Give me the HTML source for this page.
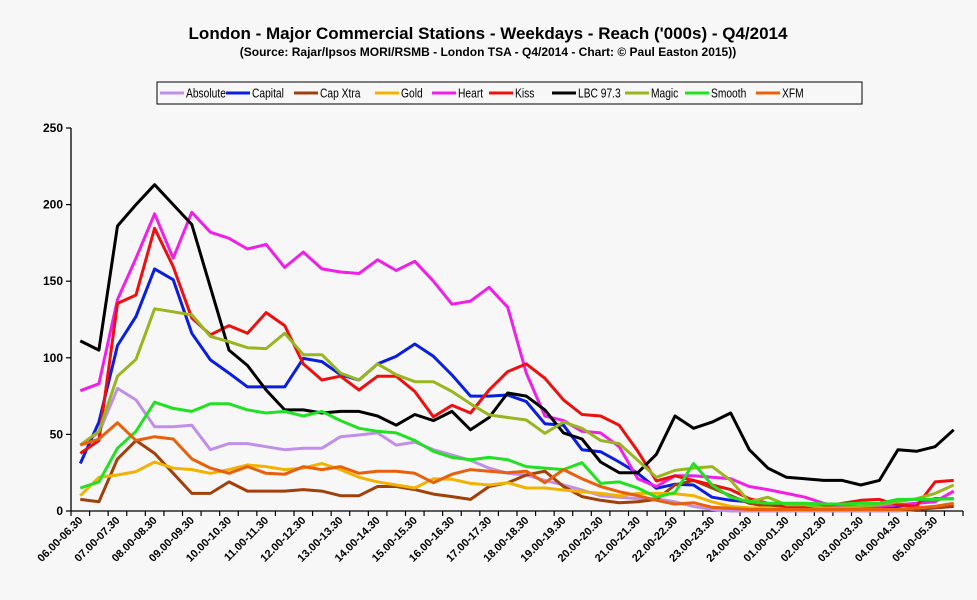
<!DOCTYPE html>
<html><head><meta charset="utf-8"><style>
body{margin:0;background:#f7f7f7;}
svg{display:block;font-family:"Liberation Sans",Arial,sans-serif;}
</style></head><body>
<svg id="chart" width="977" height="600">
<rect x="0" y="0" width="977" height="600" fill="#f7f7f7"/>
<text x="488" y="39" text-anchor="middle" font-size="17" font-weight="bold">London - Major Commercial Stations - Weekdays - Reach ('000s) - Q4/2014</text>
<text x="488" y="56" text-anchor="middle" font-size="12" font-weight="bold">(Source: Rajar/Ipsos MORI/RSMB - London TSA - Q4/2014 - Chart: © Paul Easton 2015))</text>
<g id="legend"></g>
<g id="axes"></g>
<g id="series"></g>
</svg>
<script>
const categories = ["06.00-06.30","06.30-07.00","07.00-07.30","07.30-08.00","08.00-08.30","08.30-09.00","09.00-09.30","09.30-10.00","10.00-10.30","10.30-11.00","11.00-11.30","11.30-12.00","12.00-12.30","12.30-13.00","13.00-13.30","13.30-14.00","14.00-14.30","14.30-15.00","15.00-15.30","15.30-16.00","16.00-16.30","16.30-17.00","17.00-17.30","17.30-18.00","18.00-18.30","18.30-19.00","19.00-19.30","19.30-20.00","20.00-20.30","20.30-21.00","21.00-21.30","21.30-22.00","22.00-22.30","22.30-23.00","23.00-23.30","23.30-24.00","24.00-00.30","00.30-01.00","01.00-01.30","01.30-02.00","02.00-02.30","02.30-03.00","03.00-03.30","03.30-04.00","04.00-04.30","04.30-05.00","05.00-05.30","05.30-06.00"];
const yTicks = [0,50,100,150,200,250];
const seriesNames = ["Absolute","Capital","Cap Xtra","Gold","Heart","Kiss","LBC 97.3","Magic","Smooth","XFM"];
const seriesColors = ["#c090e8","#0a1ee0","#a0400a","#f0b400","#f020e8","#ee1010","#000000","#99b520","#22e022","#e8600c"];
const absolute = [43,51,80,72.5,55,55,56,40,44,44,42,40,41,41,48.5,49.6,51,43,45,40,36.6,33,28,24.6,23.5,20,17,13.7,10,9,8,8,6,3,1,0,0,0,0,0,0,0,0,0,0,1,2,3];
const capital = [31,58,108,127,158,151,116,98.6,90,81,81,81,99.6,97.5,89,85.5,96,101,109,101,88.8,75,75,75.7,71.4,57,56,40,38.7,32,24.6,14.8,17.5,17,9,7,6,4,3,3,2.4,2.4,2.4,2.4,3,5,8,8];
const capXtra = [7.6,6,34,46,37.6,24.6,11.5,11.5,19,13,13,13,14,13,10,10,16,16,14,11,9.4,7.6,16,18.5,23.5,26,16,9.4,7,5.4,6,7.6,17,20,15,10,5,3,2,1,1,1,1,1,1,1,2,3];
const gold = [10,22,23.5,25.7,32,28,27,24.6,27,30,29,27,28,31,27,22,19,17,15,21,20.7,18,17,18.5,15,15,13.7,12.6,11.5,10,11.5,11.5,11.2,10,6,3,2,2,1,1,1,1,1,1,1,2,3,5];
const heart = [78.5,83,138,165,194,165,195,182,178,171,174,159,169,158,156,155,164,157,163,150,135,137,146,133,90,62,59,52,51,42,21,16,23,23,22,21,16,14,11.5,9,5,3,3,3,4,5,6,13];
const kiss = [37.6,46,135.5,141,184.5,159.5,126,115,121,116,129.5,121,96,85.5,88,79,88,88,78,61.5,69,64,79,91,96,86.6,72.5,63,62,56,39,19.6,23,20,17,14,8,5,3,3,3,5,7,7.6,4,3,19,20];
const lbc = [111,105,186,200,213,200,187,146,105,95,79,66,66,64,65,65,62,56,63,59,65,53,61,77,75,66,51,47,32,25,25,37,62,54,58,64,40,28,22,21,20,20,17,20,40,39,42,53];
const magic = [43,52,88,99,132,130,128,114,110.5,106.6,106,116,102,102,90,85.5,96,89,84.4,84.4,78,70,62.7,61,59.4,50.7,58,54,46,44,33,22,26.5,28,29,20,6,9,4,4,2,2,3,4,6,8,11.5,17];
const smooth = [15,19,41,52,71,67,65,70,70,66,64,65,62,65,59,54,52,51,46,39,35,33.5,35,33.5,29,28,27,31.5,18,19,15,9,12,31,17,9,6,5,5,5,4.6,4.6,5,5,7.6,7.6,7.6,8];
const xfm = [43,47,57.6,46,48.5,47,34,28,24.6,29,24.6,24,29,27,29,24.6,26,26,24.6,18.5,24,27,26,25,26,18.5,27,21,16,12.6,10,7,4.5,5.4,2.4,1.7,1,1,1,1,1,1,1,1,1,2,3,5];
const seriesData = [absolute,capital,capXtra,gold,heart,kiss,lbc,magic,smooth,xfm];

const NS="http://www.w3.org/2000/svg";
const X0=71, X1=963, Y0=511, Y1=128, YMAX=250;
const step=(X1-X0)/categories.length;
function xScale(i){return X0+step*(i+0.5);}
function yScale(v){return Y0-(v/YMAX)*(Y0-Y1);}
function mk(tag,attrs,parent){const e=document.createElementNS(NS,tag);for(const k in attrs)e.setAttribute(k,attrs[k]);parent.appendChild(e);return e;}

const axes=document.getElementById('axes');
const yAxis=mk('line',{x1:X0,y1:Y1,x2:X0,y2:Y0,stroke:'#000','stroke-width':1.3},axes);


const xAxis=mk('line',{x1:X0,y1:Y0,x2:X1,y2:Y0,stroke:'#000','stroke-width':1.3},axes);


yTicks.forEach(t=>{
  const y=yScale(t);
  const tk=mk('line',{x1:X0-5,y1:y,x2:X0,y2:y,stroke:'#000','stroke-width':1.2},axes);
  
  
  const lb=mk('text',{x:X0-8,y:y+4,'text-anchor':'end','font-size':12,'font-weight':'bold'},axes);
  lb.textContent=t;
  
  
});
for(let i=0;i<=categories.length;i++){
  const x=X0+step*i;
  const tk=mk('line',{x1:x,y1:Y0,x2:x,y2:Y0+5,stroke:'#000','stroke-width':1.2},axes);
  
  
}
categories.forEach((c,i)=>{
  if(i%2!==0)return;
  const x=xScale(i)+3, y=Y0+10;
  const lb=mk('text',{x:x,y:y,'text-anchor':'end','font-size':11,'font-weight':'bold',transform:`rotate(-45 ${x} ${y})`},axes);
  lb.textContent=c;
  
  
});

const sg=document.getElementById('series');
seriesData.forEach((d,s)=>{
  const pts=d.map((v,i)=>xScale(i).toFixed(1)+','+yScale(v).toFixed(1)).join(' ');
  const pl=mk('polyline',{points:pts,fill:'none',stroke:seriesColors[s],'stroke-width':3,'stroke-linejoin':'round'},sg);
  
  
});

const lg=document.getElementById('legend');
const box=mk('rect',{x:157,y:82,width:705,height:22,fill:'#f7f7f7',stroke:'#000','stroke-width':1},lg);


const tx=[186,252,320,401,458,515,578,651,711,782];
seriesNames.forEach((n,s)=>{
  const g=mk('g',{},lg);
  
  
  mk('line',{x1:tx[s]-26,y1:93,x2:tx[s]-2,y2:93,stroke:seriesColors[s],'stroke-width':3},g);
  const t=mk('text',{x:tx[s],y:97.5,'font-size':12.5},g);
  t.textContent=n;
  const w=t.getComputedTextLength();
  t.setAttribute('textLength',(w*0.82).toFixed(1));
  t.setAttribute('lengthAdjust','spacingAndGlyphs');
});
</script>
</body></html>
